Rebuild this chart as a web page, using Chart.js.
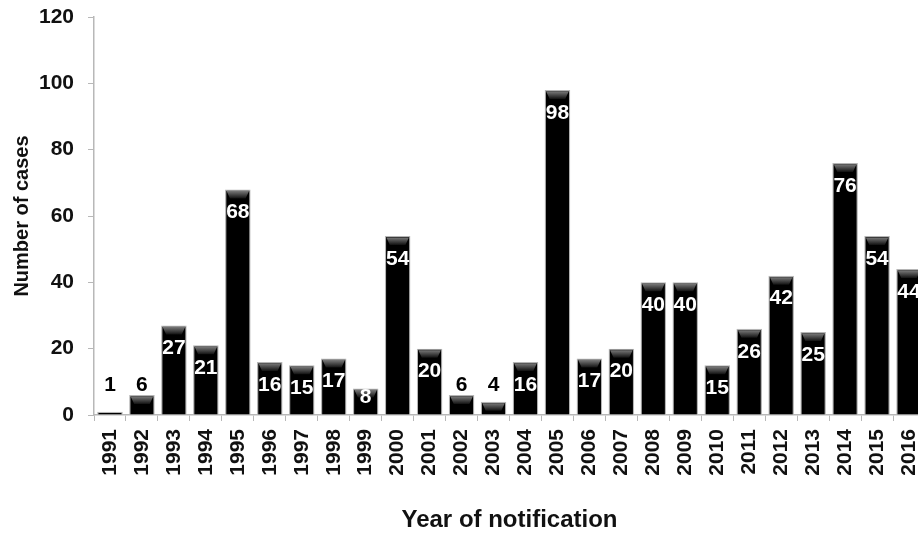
<!DOCTYPE html>
<html lang="en">
<head>
    <meta charset="UTF-8">
    <title>Cases by year of notification</title>
    <script src="https://cdn.jsdelivr.net/npm/chart.js"></script>
    <style>
        html, body {
            margin: 0;
            padding: 0;
            background: #ffffff;
            overflow: hidden;
        }
        canvas {
            display: block;
        }
    </style>
</head>
<body>
    <canvas id="cases-chart" width="925" height="535"></canvas>
    <script>
        // data
        const years = ['1991', '1992', '1993', '1994', '1995', '1996', '1997', '1998', '1999', '2000',
            '2001', '2002', '2003', '2004', '2005', '2006', '2007', '2008', '2009', '2010',
            '2011', '2012', '2013', '2014', '2015', '2016'];
        const cases = [1, 6, 27, 21, 68, 16, 15, 17, 8, 54, 20, 6, 4, 16, 98, 17, 20, 40, 40, 15, 26, 42, 25, 76, 54, 44];
        const yTicks = [0, 20, 40, 60, 80, 100, 120];

        const FONT = "'Liberation Sans', Arial, sans-serif";

        // dark bevel on the top of each bar + value labels
        const barDecor = {
            id: 'barDecor',
            afterDatasetsDraw(chart) {
                const ctx = chart.ctx;
                const meta = chart.getDatasetMeta(0);
                const yScale = chart.scales.y;
                meta.data.forEach((bar, i) => {
                    const v = cases[i];
                    const half = bar.width / 2;
                    const left = bar.x - half;
                    const right = bar.x + half;
                    const top = bar.y;
                    const bottom = bar.base;

                    if (bottom - top > 8) {
                        const g = ctx.createLinearGradient(0, top + 1, 0, top + 9);
                        g.addColorStop(0, '#808080');
                        g.addColorStop(1, '#111111');
                        ctx.save();
                        ctx.fillStyle = g;
                        ctx.beginPath();
                        ctx.moveTo(left + 1.5, top + 1.5);
                        ctx.lineTo(right - 1.5, top + 1.5);
                        ctx.lineTo(right - 5, top + 9);
                        ctx.lineTo(left + 5, top + 9);
                        ctx.closePath();
                        ctx.fill();
                        ctx.restore();
                    }

                    ctx.save();
                    ctx.font = 'bold 21px ' + FONT;
                    ctx.textAlign = 'center';
                    ctx.textBaseline = 'middle';
                    if (v <= 6) {
                        ctx.fillStyle = '#000000';
                        ctx.fillText(String(v), bar.x, Math.min(top - 8, yScale.getPixelForValue(9)));
                    } else {
                        ctx.fillStyle = '#ffffff';
                        ctx.fillText(String(v), bar.x, Math.min(top + 23, bottom - 17));
                    }
                    ctx.restore();
                });
            }
        };

        new Chart(document.getElementById('cases-chart'), {
            type: 'bar',
            data: {
                labels: years,
                datasets: [{
                    data: cases,
                    backgroundColor: '#000000',
                    borderColor: '#b5b5b5',
                    borderWidth: 1.2,
                    barPercentage: 0.8,
                    categoryPercentage: 1.0
                }]
            },
            options: {
                responsive: false,
                animation: false,
                layout: { padding: { top: 17, right: 0, left: 0, bottom: 0 } },
                plugins: {
                    legend: { display: false },
                    tooltip: { enabled: false }
                },
                scales: {
                    x: {
                        afterFit: s => {
                            s.height = 120;
                            s.paddingLeft = 0;
                            s.paddingRight = 0;
                        },
                        border: { color: '#b8b8b8', width: 1.5 },
                        grid: { display: true, drawOnChartArea: false, offset: true, tickLength: 6, color: '#b8b8b8' },
                        ticks: {
                            color: '#111111',
                            font: { family: FONT, size: 21, weight: 'bold' },
                            minRotation: 90,
                            maxRotation: 90,
                            padding: 8,
                            autoSkip: false
                        },
                        title: {
                            display: true,
                            text: 'Year of notification',
                            color: '#111111',
                            font: { family: FONT, size: 24, weight: 'bold' },
                            padding: { top: 40, bottom: 0 }
                        }
                    },
                    y: {
                        min: 0,
                        max: 120,
                        afterFit: s => {
                            s.width = 94;
                            s.paddingTop = 0;
                            s.paddingBottom = 0;
                        },
                        afterBuildTicks: s => { s.ticks = yTicks.map(v => ({ value: v })); },
                        border: { color: '#b8b8b8', width: 1.5 },
                        grid: { display: true, drawOnChartArea: false, tickLength: 6, color: '#b8b8b8' },
                        ticks: {
                            color: '#111111',
                            font: { family: FONT, size: 21, weight: 'bold' },
                            padding: 14
                        },
                        title: {
                            display: true,
                            text: 'Number of cases',
                            color: '#111111',
                            font: { family: FONT, size: 20, weight: 'bold' },
                            padding: { top: 10, bottom: 0 }
                        }
                    }
                }
            },
            plugins: [barDecor]
        });
    </script>
</body>
</html>
